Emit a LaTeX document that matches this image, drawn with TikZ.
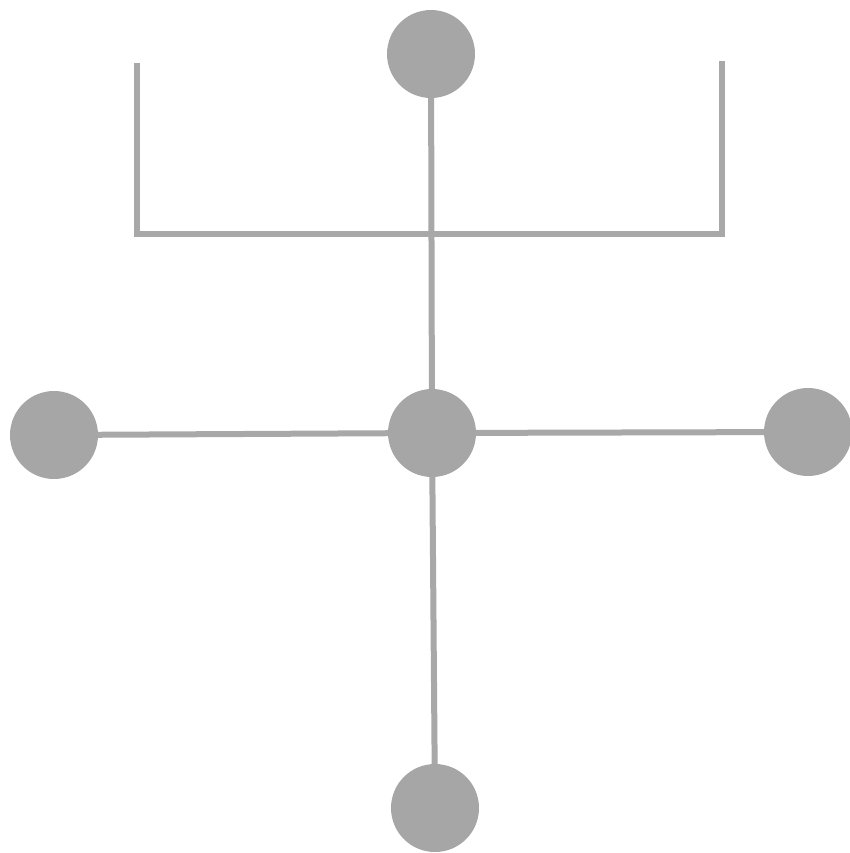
\documentclass[tikz,border=0pt]{standalone}
\begin{document}
\begin{tikzpicture}[x=1pt,y=-1pt,
  dot/.style={circle,fill=gray!70,minimum size=88pt,inner sep=0pt},
  bar/.style={draw=gray!68,line width=6pt}]
\useasboundingbox (0,0) rectangle (850,853);
\coordinate (ul) at (137,63);
\coordinate (ur) at (722,61);
\coordinate (bl) at (137,234);
\coordinate (br) at (722,234);
\coordinate (bm) at (431,234);
\path[bar] (ul) -- (bl) -- (br) -- (ur);
\node[dot] (top) at (431,54) {};
\node[dot] (left) at (54,435) {};
\node[dot] (mid) at (432,433) {};
\node[dot] (right) at (808,432) {};
\node[dot] (bot) at (435,808) {};
\path[bar] (top) -- (mid);
\path[bar] (mid) -- (bot);
\path[bar] (left) -- (mid);
\path[bar] (mid) -- (right);
\end{tikzpicture}
\end{document}
